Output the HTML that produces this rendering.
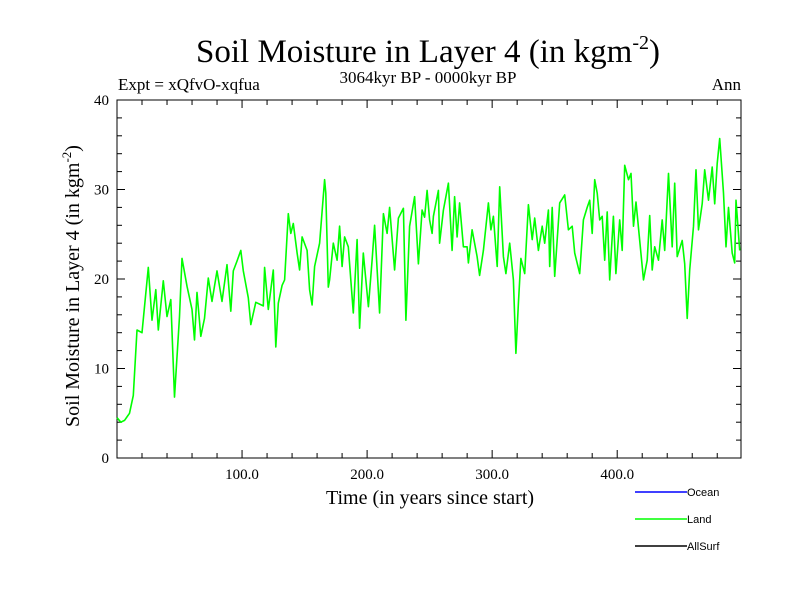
<!DOCTYPE html>
<html><head><meta charset="utf-8"><style>
body{margin:0;background:#fff;}
svg text{font-family:"Liberation Serif",serif;}
</style></head><body>
<svg id="chart" width="800" height="600" xmlns="http://www.w3.org/2000/svg">
<text x="428" y="62" font-size="33" text-anchor="middle">Soil Moisture in Layer 4 (in kgm<tspan font-size="20" dy="-13">-2</tspan><tspan dy="13">)</tspan></text>
<text x="118" y="90" font-size="17">Expt = xQfvO-xqfua</text>
<text x="428" y="83" font-size="17" text-anchor="middle">3064kyr BP - 0000kyr BP</text>
<text x="741" y="90" font-size="17" text-anchor="end">Ann</text>
<text x="430" y="504" font-size="20" text-anchor="middle">Time (in years since start)</text>
<text transform="translate(79,286) rotate(-90)" font-size="20" text-anchor="middle">Soil Moisture in Layer 4 (in kgm<tspan font-size="13" dy="-8">-2</tspan><tspan dy="8">)</tspan></text>
<g id="axes"></g>
<g id="series"></g>
<g>
<line x1="635" y1="492" x2="687" y2="492" stroke="#0000ff" stroke-width="1.5"/>
<text x="687" y="496" font-size="11" style="font-family:'Liberation Sans',sans-serif">Ocean</text>
<line x1="635" y1="519" x2="687" y2="519" stroke="#00ff00" stroke-width="1.5"/>
<text x="687" y="523" font-size="11" style="font-family:'Liberation Sans',sans-serif">Land</text>
<line x1="635" y1="546" x2="687" y2="546" stroke="#000" stroke-width="1.5"/>
<text x="687" y="550" font-size="11" style="font-family:'Liberation Sans',sans-serif">AllSurf</text>
</g>
</svg>
<script>
const years=[0,3,6,10,13,16,20,25,28,31,33,37,40,43,46,48,50,52,56,60,62,64,67,70,73,76,80,84,88,91,93,96,99,101,105,107,111,117,118,121,125,127,129,132,134,137,139,141,144,146,148,152,154,156,158,162,166,167,169,170,173,176,178,180,182,185,188,189,192,194,197,201,204,206,210,213,216,218,222,225,229,231,234,238,241,244,246,248,250,252,253,257,258,261,265,268,270,272,274,277,280,281,284,288,290,293,297,299,301,304,306,309,311,314,317,319,321,323,326,329,332,334,337,340,342,345,346,348,350,354,358,361,364,366,370,373,376,378,380,382,384,386,388,390,392,394,397,399,402,404,406,409,411,413,415,418,421,424,426,428,430,433,436,438,441,444,446,448,452,454,456,458,461,463,465,468,470,473,476,478,480,482,485,487,489,492,494,495,498];
const landValues=[4.5,4,4.2,5,7,14.3,14,21.3,15.4,18.8,14.3,19.8,15.8,17.7,6.8,11.3,15.8,22.3,19.2,16.6,13.2,18.5,13.6,15.6,20.1,17.5,20.9,17.5,21.6,16.4,20.9,22,23.2,20.9,17.9,14.9,17.4,17,21.3,16.6,21,12.4,17.3,19.3,19.9,27.3,25.1,26.2,22.9,21,24.7,23.2,18.8,17.1,21.4,24,31.1,29.6,19.1,19.9,24,22.1,25.9,21.4,24.7,23.6,18,16.2,24.4,14.5,22.9,16.9,22.1,26,16.2,27.3,25.1,28,21,26.8,27.9,15.4,25.9,29.2,21.7,27.7,26.9,29.9,26.6,25.1,27,29.9,24,27.7,30.7,23.2,29.2,24.7,28.5,23.6,23.6,21.8,25.5,22.5,20.4,23.2,28.5,25.5,27,21.4,30.3,22.5,20.6,24,19.9,11.7,17.3,22.3,20.6,28.3,24.4,26.8,23.2,25.9,24,27.7,21.4,28,20.3,28.5,29.4,25.5,25.9,22.9,20.6,26.6,28,28.8,25.1,31.1,29.6,26.6,27,22.1,27.5,19.9,27,20.6,26.6,23.2,32.7,31.1,31.8,25.9,28.6,24.3,19.9,22.1,27.1,21,23.6,22.1,26.6,23.2,31.8,23.6,30.7,22.5,24.3,21.7,15.6,21,25.9,32.2,25.5,28.4,32.2,28.8,32.5,28.4,32.9,35.7,29.6,23.6,28,22.9,21.8,28.8,23.2];
const xTickValues=[100,200,300,400];
const xTickLabels=["100.0","200.0","300.0","400.0"];
const yTickValues=[0,10,20,30,40];
const yTickLabels=["0","10","20","30","40"];

const X0=117,X1=741,Y0=458,Y1=100,XMAX=499,YMAX=40;
const sx=v=>X0+(v/XMAX)*(X1-X0);
const sy=v=>Y0-(v/YMAX)*(Y0-Y1);
const NS="http://www.w3.org/2000/svg";
const axes=document.getElementById('axes');
function mk(tag,attrs,parent){const e=document.createElementNS(NS,tag);for(const k in attrs)e.setAttribute(k,attrs[k]);parent.appendChild(e);return e;}
const frame=mk('rect',{x:X0,y:Y1,width:X1-X0,height:Y0-Y1,fill:'none',stroke:'#000','stroke-width':1},axes);


for(let v=20;v<XMAX;v+=20){
 const major=v%100===0,len=major?8:5;
 for(const [yb,d] of [[Y0,-1],[Y1,1]]){
  const t=mk('line',{x1:sx(v),x2:sx(v),y1:yb,y2:yb+d*len,stroke:'#000'},axes);
  
  
 }
}
for(let v=2;v<YMAX;v+=2){
 const major=v%10===0,len=major?8:5;
 for(const [xb,d] of [[X0,1],[X1,-1]]){
  const t=mk('line',{x1:xb,x2:xb+d*len,y1:sy(v),y2:sy(v),stroke:'#000'},axes);
  
  
 }
}
xTickValues.forEach((v,i)=>{
 const t=mk('text',{x:sx(v),y:Y0+21,'font-size':15,'text-anchor':'middle'},axes);
 t.textContent=xTickLabels[i];
 
 
});
yTickValues.forEach((v,i)=>{
 const t=mk('text',{x:X0-8,y:sy(v)+5,'font-size':15,'text-anchor':'end'},axes);
 t.textContent=yTickLabels[i];
 
 
});
const series=document.getElementById('series');
const pts=years.map((y,i)=>sx(y).toFixed(1)+','+sy(landValues[i]).toFixed(1)).join(' ');
const line=mk('polyline',{points:pts,fill:'none',stroke:'#00ff00','stroke-width':1.6,'stroke-linejoin':'round'},series);


</script>
</body></html>
